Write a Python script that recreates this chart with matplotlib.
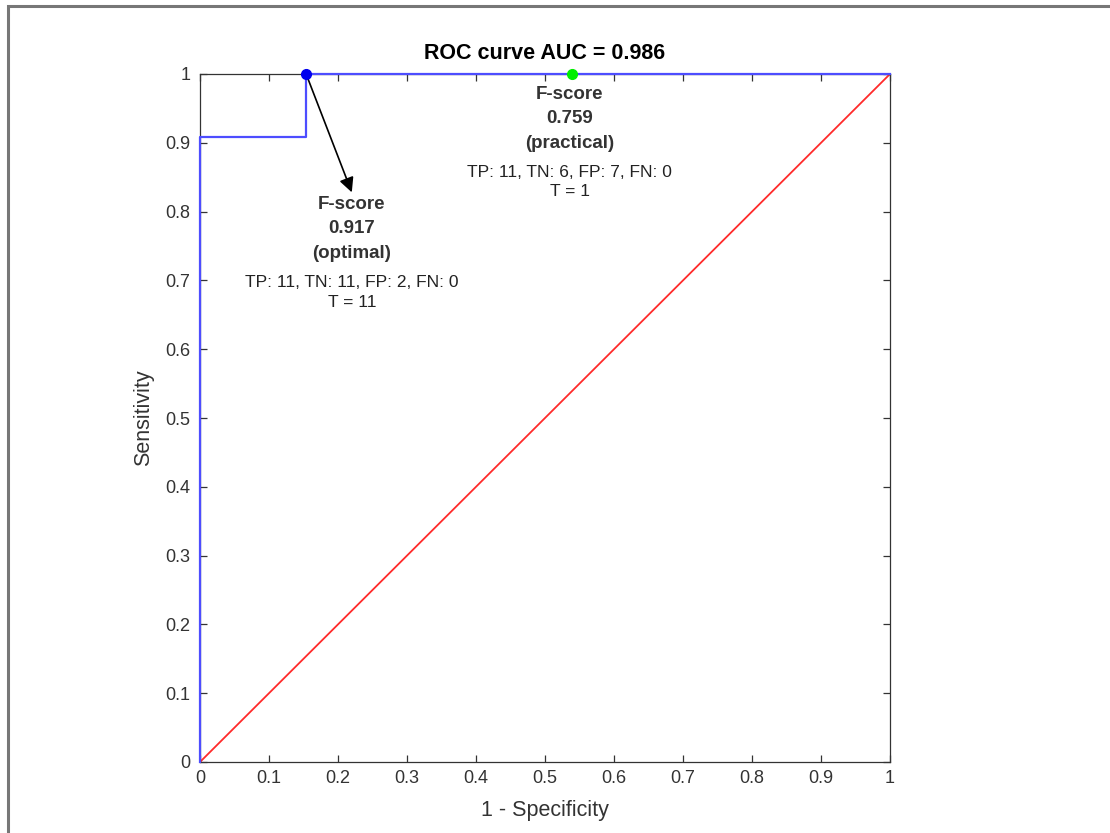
import numpy as np
import matplotlib
matplotlib.use("Agg")
import matplotlib.pyplot as plt
from matplotlib.patches import Rectangle

plt.rcParams['font.family'] = ['Liberation Sans', 'DejaVu Sans']

# ROC data (1 - specificity, sensitivity)
fpr = [0.0, 0.0, 0.1538, 0.1538, 1.0]
tpr = [0.0, 0.9091, 0.9091, 1.0, 1.0]
auc = 0.986

opt_pt = (0.1538, 1.0)
prac_pt = (0.5385, 1.0)
opt_lines = ["F-score", "0.917", "(optimal)"]
opt_info = ["TP: 11, TN: 11, FP: 2, FN: 0", "T = 11"]
prac_lines = ["F-score", "0.759", "(practical)"]
prac_info = ["TP: 11, TN: 6, FP: 7, FN: 0", "T = 1"]

ticks = np.round(np.arange(0, 1.01, 0.1), 1)
tick_labels = ["0"] + ["%.1f" % t for t in ticks[1:-1]] + ["1"]

gray = '#333333'

fig = plt.figure(figsize=(11.1, 8.33), dpi=100)
# outer frame of the cropped figure
fig.patches.append(Rectangle((8 / 1110, -0.1), 1.2, 1 - 6 / 833 + 0.1,
                             transform=fig.transFigure, fill=False,
                             edgecolor='#777777', lw=2.2))

ax = fig.add_axes([200 / 1110, 1 - 762 / 833, 690 / 1110, 688 / 833])
ax.plot([0, 1], [0, 1], color='#ff2a2a', lw=1.3, zorder=2)
ax.plot(fpr, tpr, color='#4d4dff', lw=1.6, zorder=3, clip_on=False)
ax.plot(*opt_pt, 'o', color='#0000ee', ms=7, zorder=5, clip_on=False)
ax.plot(*prac_pt, 'o', color='#00ee00', ms=7, zorder=5, clip_on=False)

ax.set_xlim(0, 1)
ax.set_ylim(0, 1)
ax.set_xticks(ticks)
ax.set_yticks(ticks)
ax.set_xticklabels(tick_labels)
ax.set_yticklabels(tick_labels)
ax.tick_params(direction='in', top=True, right=True, length=5, width=0.9,
               colors=gray, labelsize=13, labelcolor=gray)
ax.tick_params(axis='y', pad=7)
ax.tick_params(axis='x', pad=6)
for s in ax.spines.values():
    s.set_color(gray)
    s.set_linewidth(0.9)

ax.set_xlabel("1 - Specificity", fontsize=15.5, color=gray, labelpad=9)
ax.set_ylabel("Sensitivity", fontsize=15.5, color=gray, labelpad=8)
ax.set_title("ROC curve AUC = %.3f" % auc, fontsize=15.5, fontweight='bold',
             color='black', pad=11)

# arrow to optimal annotation
ax.annotate("", xy=(0.22, 0.828), xytext=opt_pt,
            arrowprops=dict(arrowstyle='-|>', color='black', lw=1.2,
                            mutation_scale=22, shrinkA=4, shrinkB=0))

def block(x, y_top, bold_lines, info_lines):
    steps = [0.0, 0.0335, 0.0698, 0.112, 0.141]
    for t, dy in zip(bold_lines, steps[:3]):
        ax.text(x, y_top - dy, t, ha='center', va='center', fontsize=13.5,
                fontweight='bold', color=gray)
    for t, dy in zip(info_lines, steps[3:]):
        ax.text(x, y_top - dy, t, ha='center', va='center', fontsize=12.5,
                color='#222222')

block(0.22, 0.8096, opt_lines, opt_info)
block(0.536, 0.9695, prac_lines, prac_info)

fig.savefig("out.png", dpi=100, facecolor='white')
